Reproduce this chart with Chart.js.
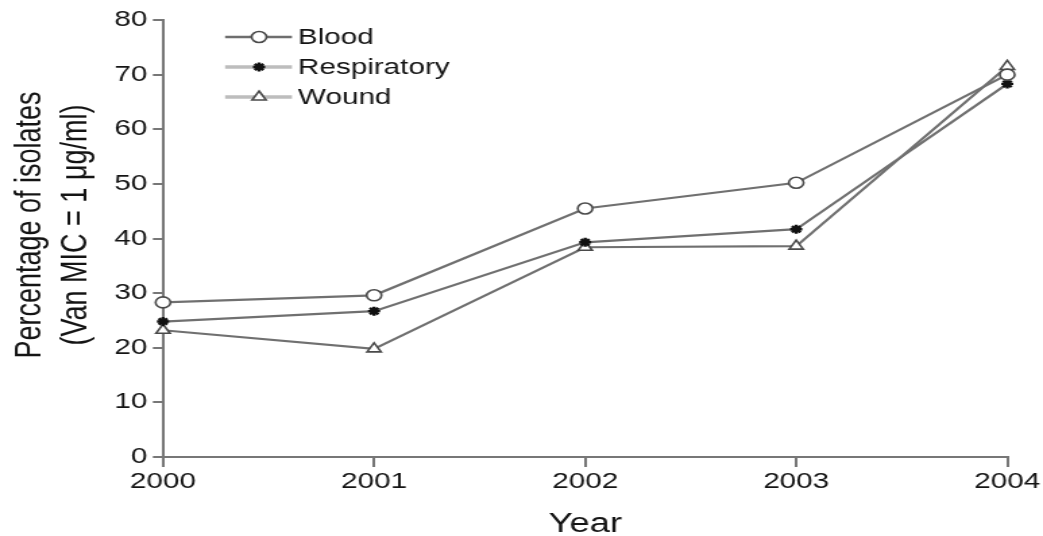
<!DOCTYPE html>
<html>
<head>
<meta charset="utf-8">
<script src="https://cdn.jsdelivr.net/npm/chart.js@4/dist/chart.umd.min.js"></script>
<style>
  html, body { margin: 0; padding: 0; background: #fff; overflow: hidden; }
  /* the chart is laid out on a narrower canvas and widened to the page */
  #wrap { position: absolute; left: 0; top: 0; width: 773px; height: 536px;
          transform: scaleX(1.3493); transform-origin: 0 0; filter: blur(0.45px); }
</style>
</head>
<body>
<div id="wrap"><canvas id="c"></canvas></div>
<script>
// Share of isolates with vancomycin MIC = 1 µg/ml, by specimen source
const years = ['2000', '2001', '2002', '2003', '2004'];
const blood = [28.3, 29.6, 45.5, 50.2, 70.0];
const respiratory = [24.8, 26.7, 39.3, 41.7, 68.3];
const wound = [23.2, 19.8, 38.4, 38.6, 71.5];
const yTicks = [0, 10, 20, 30, 40, 50, 60, 70, 80];
const seriesNames = ['Blood', 'Respiratory', 'Wound'];
const yTitleLines = ['Percentage of isolates', '(Van MIC = 1 μg/ml)'];
const xTitle = 'Year';

const FONT = "'Liberation Sans', Arial, Helvetica, sans-serif";
const AXIS = '#777777';
const TEXT = '#141414';
const LINE = '#707070';

// legend swatch strokes
const legendStroke = [
  { color: '#6e6e6e', width: 2.5 },
  { color: '#bdbdbd', width: 3.5 },
  { color: '#bdbdbd', width: 3.5 }
];

function markerPath(ctx, style, r, x, y) {
  ctx.beginPath();
  if (style === 'circle') {
    ctx.arc(x, y, r, 0, Math.PI * 2);
  } else if (style === 'triangle') {
    for (let k = 0; k < 3; k++) {
      const a = k * 2 * Math.PI / 3;
      const px = x + Math.sin(a) * r, py = y - Math.cos(a) * r;
      if (k === 0) ctx.moveTo(px, py); else ctx.lineTo(px, py);
    }
    ctx.closePath();
  } else if (style === 'star') {
    for (let k = 0; k < 4; k++) {
      const a = k * Math.PI / 4;
      ctx.moveTo(x - Math.cos(a) * r, y - Math.sin(a) * r);
      ctx.lineTo(x + Math.cos(a) * r, y + Math.sin(a) * r);
    }
  }
}

const insetLegend = {
  id: 'insetLegend',
  afterDatasetsDraw(chart) {
    const ctx = chart.ctx;
    const area = chart.chartArea;
    const x0 = area.left + 46, x1 = area.left + 95.6;
    const mx = area.left + 71.2;
    const tx = area.left + 100;
    ctx.save();
    chart.data.datasets.forEach((ds, i) => {
      const y = area.top + 17 + 30 * i;
      ctx.strokeStyle = legendStroke[i].color;
      ctx.lineWidth = legendStroke[i].width;
      ctx.beginPath();
      ctx.moveTo(x0, y);
      ctx.lineTo(x1, y);
      ctx.stroke();
      ctx.fillStyle = ds.pointBackgroundColor;
      ctx.strokeStyle = ds.pointBorderColor;
      ctx.lineWidth = ds.pointBorderWidth;
      markerPath(ctx, ds.pointStyle, ds.pointRadius, mx, y);
      if (ds.pointStyle !== 'star') ctx.fill();
      ctx.stroke();
      ctx.fillStyle = TEXT;
      ctx.font = '22px ' + FONT;
      ctx.textAlign = 'left';
      ctx.textBaseline = 'middle';
      ctx.fillText(ds.label, tx, y + 1);
    });
    ctx.restore();
  }
};

const yAxisTitle = {
  id: 'yAxisTitle',
  afterDraw(chart) {
    const ctx = chart.ctx;
    ctx.save();
    ctx.translate(22.2, 225);
    ctx.rotate(-Math.PI / 2);
    ctx.fillStyle = TEXT;
    ctx.font = '27px ' + FONT;
    ctx.textAlign = 'center';
    ctx.textBaseline = 'middle';
    yTitleLines.forEach((t, i) => ctx.fillText(t, 0, i * 34.1));
    ctx.restore();
  }
};

function series(label, values, style, radius, fill, border, bw) {
  return {
    label: label,
    data: values,
    borderColor: LINE,
    borderWidth: 2.2,
    tension: 0,
    fill: false,
    clip: false,
    pointStyle: style,
    pointRadius: radius,
    pointHoverRadius: radius,
    pointBackgroundColor: fill,
    pointBorderColor: border,
    pointBorderWidth: bw
  };
}

new Chart(document.getElementById('c'), {
  type: 'line',
  data: {
    labels: years,
    datasets: [
      series(seriesNames[0], blood, 'circle', 5.5, '#ffffff', '#4a4a4a', 1.6),
      series(seriesNames[1], respiratory, 'star', 4.5, '#111111', '#111111', 2.4),
      series(seriesNames[2], wound, 'triangle', 6, '#ffffff', '#4a4a4a', 1.6)
    ]
  },
  options: {
    responsive: true,
    maintainAspectRatio: false,
    animation: false,
    events: [],
    layout: { padding: { top: 20, right: 25, bottom: 0, left: 0 } },
    plugins: {
      legend: { display: false },
      tooltip: { enabled: false },
      title: { display: false }
    },
    scales: {
      x: {
        type: 'category',
        offset: false,
        border: { display: true, color: AXIS, width: 2 },
        grid: { drawOnChartArea: false, drawTicks: true, tickLength: 10, color: AXIS, lineWidth: 2 },
        ticks: { color: TEXT, padding: 2, maxRotation: 0, autoSkip: false,
                 font: { family: FONT, size: 22 } },
        title: { display: true, text: xTitle, color: TEXT, padding: 0,
                 font: { family: FONT, size: 27, lineHeight: 0.85 } },
        afterFit(scale) { scale.height = 79; }
      },
      y: {
        min: 0,
        max: 80,
        border: { display: true, color: AXIS, width: 2 },
        grid: { drawOnChartArea: false, drawTicks: true, tickLength: 7.5, color: AXIS, lineWidth: 2 },
        ticks: { color: TEXT, padding: 4, font: { family: FONT, size: 22 } },
        afterBuildTicks(scale) { scale.ticks = yTicks.map(v => ({ value: v })); },
        afterFit(scale) { scale.width = 120.8; }
      }
    }
  },
  plugins: [insetLegend, yAxisTitle]
});
</script>
</body>
</html>
